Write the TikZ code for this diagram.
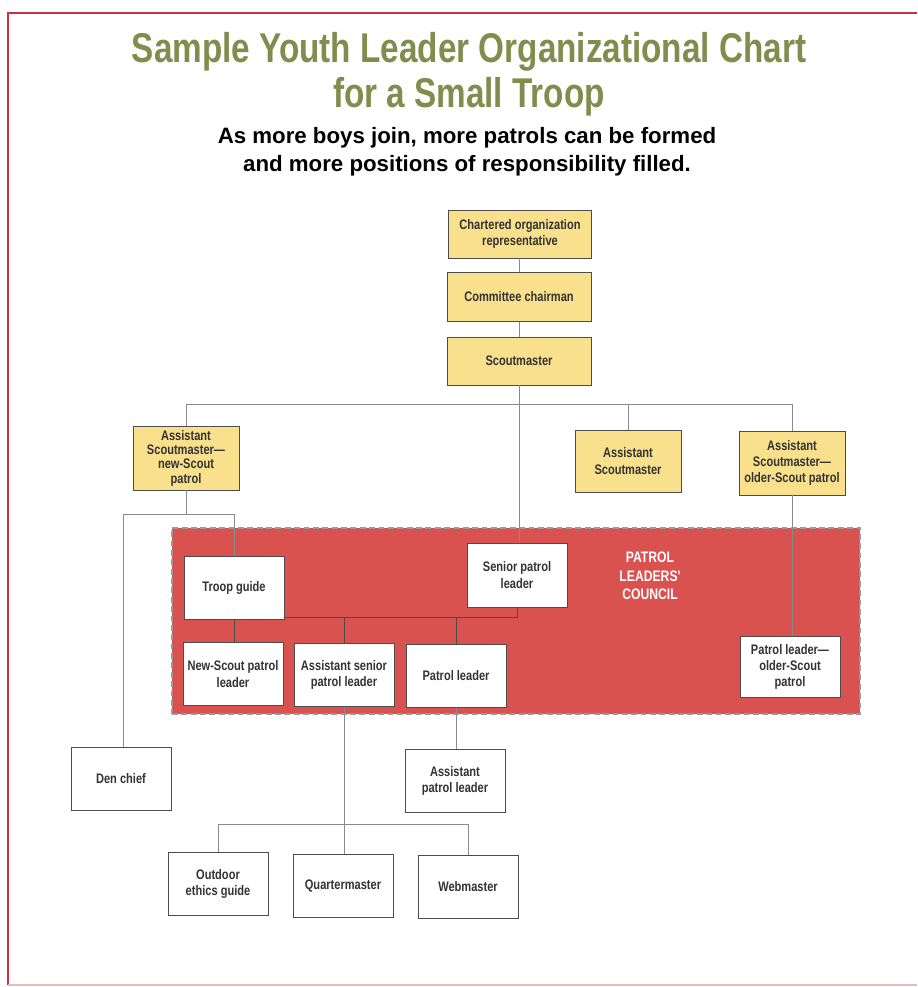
\documentclass[tikz,border=0pt]{standalone}
\usepackage{fontspec}
\setmainfont{Liberation Sans}
\newfontfamily\condfont[FakeStretch=0.8]{Liberation Sans}
\usepackage{tikz}
\definecolor{boxyellow}{HTML}{F8E08C}
\definecolor{councilred}{HTML}{D9524F}
\definecolor{titlegreen}{HTML}{7F8E4C}
\definecolor{framered}{HTML}{C9343C}
\definecolor{linegray}{HTML}{8A8A8A}
\tikzset{
  posbox/.style = {draw=black!70, line width=0.7pt, align=center, inner sep=1pt,
                font=\condfont\bfseries\fontsize{11.8}{14}\selectfont, text=black!80},
  adult/.style = {posbox, fill=boxyellow},
  youth/.style = {posbox, fill=white, minimum width=3cm, minimum height=1.89cm},
  link/.style = {draw=linegray, line width=0.6pt}
}

\begin{document}
\begin{tikzpicture}[x=0.03cm, y=-0.03cm]
    \useasboundingbox (0, 0) rectangle (917, 987);
    \fill [white] (0, 0) rectangle (917, 987);

    % frame
    \draw [framered, line width=1.6pt] (8, 985) -- (8, 13) -- (917, 13);
    \draw [framered!35, line width=1.2pt] (8, 985) -- (917, 985);

    % headings
    \node [text=titlegreen, font=\condfont\bfseries\fontsize{35.5}{38}\selectfont, align=center]
      (title) at (469, 74) {Sample Youth Leader Organizational Chart\\for a Small Troop};
    \node [font=\bfseries\fontsize{19}{24}\selectfont, align=center]
      (subtitle) at (467, 152) {As more boys join, more patrols can be formed\\and more positions of responsibility filled.};

    % patrol leaders' council
    \node [fill=councilred, draw=black!40, line width=1.5pt, dash pattern=on 5pt off 3pt,
           minimum width=20.64cm, minimum height=5.58cm, inner sep=0] (plc) at (516, 621) {};
    \node [text=white, font=\condfont\bfseries\fontsize{13}{16}\selectfont, align=center]
      (plclabel) at (650, 576) {PATROL\\LEADERS'\\COUNCIL};

    % bus coordinates
    \coordinate (smbus) at (0, 404);
    \coordinate (denbus) at (0, 514);
    \coordinate (splbus) at (0, 617);
    \coordinate (qmbus) at (0, 824);

    % adult positions
    \node [adult, minimum width=4.29cm, minimum height=1.44cm] (cor) at (520, 234) {Chartered organization\\representative};
    \node [adult, minimum width=4.32cm, minimum height=1.47cm] (cc) at (519, 297) {Committee chairman};
    \node [adult, minimum width=4.32cm, minimum height=1.44cm] (sm) at (519, 361) {Scoutmaster};
    \node [adult, minimum width=3.18cm, minimum height=1.92cm, font=\condfont\bfseries\fontsize{11.8}{12.2}\selectfont] (asmnew) at (186, 458) {Assistant\\Scoutmaster—\\new-Scout\\patrol};
    \node [adult, minimum width=3.18cm, minimum height=1.86cm] (asm) at (628, 461) {Assistant\\Scoutmaster};
    \node [adult, minimum width=3.18cm, minimum height=1.92cm] (asmold) at (792, 463) {Assistant\\Scoutmaster—\\older-Scout patrol};

    % youth positions
    \node [youth] (tg) at (234, 588) {Troop guide};
    \node [youth, minimum height=1.92cm] (spl) at (517, 575) {Senior patrol\\leader};
    \node [youth] (nspl) at (233, 674) {New-Scout patrol\\leader};
    \node [youth] (aspl) at (344, 675) {Assistant senior\\patrol leader};
    \node [youth] (pl) at (456, 676) {Patrol leader};
    \node [youth, minimum height=1.83cm] (plold) at (790, 667) {Patrol leader—\\older-Scout\\patrol};
    \node [youth] (den) at (121, 779) {Den chief};
    \node [youth] (apl) at (455, 781) {Assistant\\patrol leader};
    \node [youth] (oeg) at (218, 884) {Outdoor\\ethics guide};
    \node [youth] (qm) at (343, 886) {Quartermaster};
    \node [youth] (web) at (468, 887) {Webmaster};

    % connectors
    \draw [link] (cor) -- (cc);
    \draw [link] (cc) -- (sm);
    \draw [link] (asmnew.north) |- (asmold.north |- smbus) -- (asmold.north);
    \draw [link] (asm.north) -- (asm.north |- smbus);
    \draw [link] (sm.south) -- (sm.south |- spl.north);
    \draw [link] (asmnew.south) -- (asmnew.south |- denbus);
    \draw [link] ([xshift=2]den.north) |- (tg.north |- denbus) -- (tg.north);
    \draw [link, draw=black!70] (spl.south) |- (tg.east |- splbus);
    \draw [link, draw=black!70] (aspl.north) -- (aspl.north |- splbus);
    \draw [link, draw=black!70] (pl.north) -- (pl.north |- splbus);
    \draw [link, draw=black!70] (tg.south) -- (tg.south |- nspl.north);
    \draw [link] (asmold.south) -- (asmold.south |- plold.north);
    \draw [link] (pl.south) -- (pl.south |- apl.north);
    \draw [link] (aspl.south) -- (aspl.south |- qm.north);
    \draw [link] (oeg.north) |- (web.north |- qmbus) -- (web.north);
\end{tikzpicture}
\end{document}
